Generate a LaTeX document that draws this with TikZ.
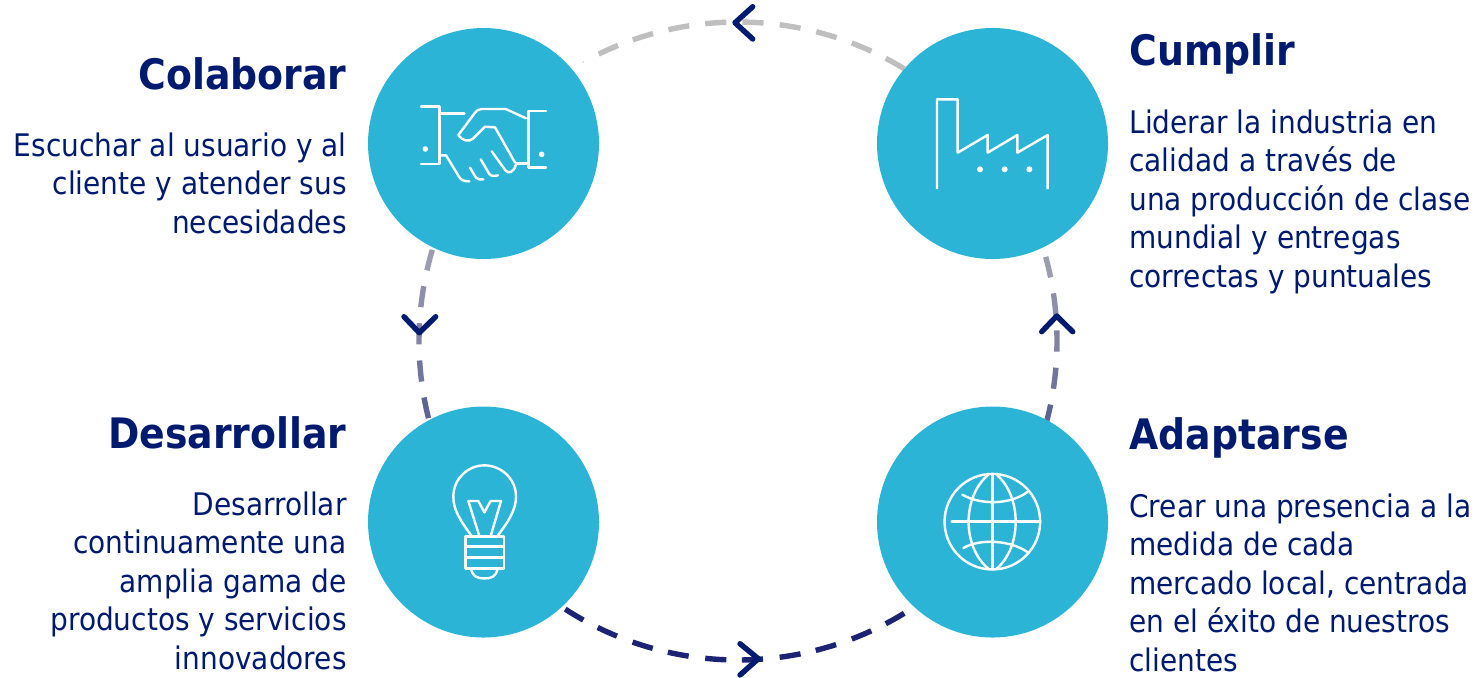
\documentclass[tikz,border=0pt]{standalone}
\usepackage{fontspec}
\setmainfont{DejaVu Sans}[FakeStretch=0.9]
\definecolor{disccol}{HTML}{2CB4D6}
\definecolor{navytext}{HTML}{001A70}
\definecolor{dashnavy}{HTML}{1C2274}
\definecolor{dashgrey}{HTML}{BFBFBF}
\tikzset{
  disc/.style={circle,fill=disccol,draw=none,minimum size=115.5pt,inner sep=0pt},
  headtext/.style={text=navytext,inner sep=0pt,font=\bfseries\fontsize{21}{25}\selectfont},
  bodyleft/.style={text=navytext,inner sep=0pt,anchor=north east,align=right,font=\fontsize{15.55}{19.25}\selectfont,execute at begin node={\rule{0pt}{14pt}}},
  bodyright/.style={text=navytext,inner sep=0pt,anchor=north west,align=left,font=\fontsize{15.55}{19.25}\selectfont,execute at begin node={\rule{0pt}{14pt}}},
  dashseg/.style={line width=2.7pt,line cap=butt},
  chevron/.style={draw=navytext,line width=2.7pt,line cap=round,line join=round},
  iconline/.style={draw=white,line width=1.2pt,line join=round,line cap=round},
  icondot/.style={fill=white,draw=none}
}
\begin{document}
\begin{tikzpicture}[x=0.5pt,y=-0.5pt]
\useasboundingbox (0,0) rectangle (1481,677);
% dashed ring
\coordinate (ring) at (738,341);
\foreach \a in {114,107.35,100.7,94,87.3,80.6,73.9,67.2,60.5}
  \draw[dashseg,dashgrey] plot[domain=\a-1.9:\a+1.9,samples=6] ({738+319*cos(\x)},{341-319*sin(\x)});
\draw[dashgrey,line width=0.4pt] plot[domain=118.9:119.1,samples=2] ({738+319*cos(\x)},{341-319*sin(\x)});
\foreach \a/\m in {165.3/22,172/30,178.7/38,185.4/48,192.1/58,-13.4/58,-6.7/48,0/38,6.7/30,13.4/22}
  \draw[dashseg,dashnavy!\m!dashgrey] plot[domain=\a-1.9:\a+1.9,samples=6] ({738+319*cos(\x)},{341-319*sin(\x)});
\foreach \a in {239.1,245.8,252.6,259.2,266,272.6,279.4,286,292.8,299.5}
  \draw[dashseg,dashnavy] plot[domain=\a-1.9:\a+1.9,samples=6] ({738+319*cos(\x)},{341-319*sin(\x)});
% discs
\node[disc] (colaborar) at (483.5,143.5) {};
\node[disc] (cumplir) at (992.5,143.5) {};
\node[disc] (desarrollar) at (483.5,522) {};
\node[disc] (adaptarse) at (992.5,522) {};
% chevrons
\coordinate (ct) at (735,22.7); \coordinate (ct1) at (752.7,6.7); \coordinate (ct2) at (752.7,39);
\draw[chevron] (ct1) -- (ct) -- (ct2);
\coordinate (cb) at (758.3,658.7); \coordinate (cb1) at (740,643.7); \coordinate (cb2) at (740,675);
\draw[chevron] (cb1) -- (cb) -- (cb2);
\coordinate (cl) at (419.3,332.7); \coordinate (cl1) at (404,316.7); \coordinate (cl2) at (435.7,316.7);
\draw[chevron] (cl1) -- (cl) -- (cl2);
\coordinate (cr) at (1056.7,316); \coordinate (cr1) at (1041.7,331.7); \coordinate (cr2) at (1072.7,331.7);
\draw[chevron] (cr1) -- (cr) -- (cr2);
% handshake icon
\begin{scope}[shift={(360,20)},x=0.16667pt,y=-0.16667pt]
\draw[iconline] (183,259)--(238,259)--(238,432)--(183,432);
\draw[iconline] (238,280)--(313,280);
\fill[icondot] (196,387) circle[radius=1.4pt];
\draw[iconline] (238,406)--(258,406)--(297,470) .. controls (303,481) and (313,484) .. (328,484);
\draw[iconline] (330,443)--(348,473) .. controls (353,479) and (362,479) .. (370,478);
\draw[iconline] (362,418)--(388,462) .. controls (393,469) and (404,468) .. (414,466);
\draw[iconline] (395,394)--(437,452) .. controls (445,462) and (462,458) .. (468,432);
\draw[iconline] (498,295)--(437,267)--(365,267) .. controls (355,267) and (350,272) .. (345,278)--(295,345) .. controls (305,362) and (328,368) .. (340,355)--(375,320)--(405,322)--(465,428);
\draw[iconline] (468,430)--(505,430);
\draw[iconline] (558,273)--(505,273)--(505,443)--(558,443);
\fill[icondot] (545,403) circle[radius=1.4pt];
\end{scope}
% factory icon
\begin{scope}[shift={(870,20)},x=0.16667pt,y=-0.16667pt]
\draw[iconline,line cap=butt] (201,507)--(201,238)--(263,238)--(263,398)--(353,345)--(353,398)--(442,345)--(442,398)--(533,345)--(533,507);
\fill[icondot] (330,448) circle[radius=1.5pt];
\fill[icondot] (404,448) circle[radius=1.5pt];
\fill[icondot] (478,448) circle[radius=1.5pt];
\end{scope}
% bulb icon
\begin{scope}[shift={(360,400)},x=0.16667pt,y=-0.16667pt]
\draw[iconline] (316,410) rectangle (432,505);
\draw[iconline] (316,440)--(432,440);
\draw[iconline] (316,473)--(432,473);
\draw[iconline] (333,505) .. controls (338,530) and (350,535) .. (373,535) .. controls (396,535) and (408,530) .. (413,505);
\draw[iconline] (335,408) .. controls (300,360) and (280,330) .. (280,290) .. controls (280,235) and (325,196) .. (373,196) .. controls (422,196) and (468,235) .. (468,290) .. controls (468,330) and (445,365) .. (412,408);
\draw[iconline] (358,408)--(325,303)--(355,303)--(373,337)--(392,303)--(423,303)--(392,408);
\end{scope}
% globe icon
\begin{scope}[shift={(870,400)},x=0.16667pt,y=-0.16667pt]
\draw[iconline] (367,365) circle[radius=23.9pt];
\draw[iconline] (367,222)--(367,508);
\draw[iconline] (245,365)--(510,365);
\draw[iconline] (355,224) .. controls (276,290) and (276,440) .. (355,506);
\draw[iconline] (380,224) .. controls (456,290) and (456,440) .. (380,506);
\draw[iconline] (277,284) .. controls (330,315) and (420,315) .. (472,276);
\draw[iconline] (280,444) .. controls (330,415) and (420,420) .. (472,456);
\end{scope}
% texts
\node[headtext,anchor=base east] (t1) at (347,89) {Colaborar};
\node[bodyleft] (b1) at (347,132) {Escuchar al usuario y al\\cliente y atender sus\\necesidades};
\node[headtext,anchor=base west] (t2) at (1129,65) {Cumplir};
\node[bodyright] (b2) at (1129,109) {Liderar la industria en\\calidad a través de\\una producción de clase\\mundial y entregas\\correctas y puntuales};
\node[headtext,anchor=base east] (t3) at (347,448) {Desarrollar};
\node[bodyleft] (b3) at (347,491) {Desarrollar\\continuamente una\\amplia gama de\\productos y servicios\\innovadores};
\node[headtext,anchor=base west] (t4) at (1129,449) {Adaptarse};
\node[bodyright] (b4) at (1129,493) {Crear una presencia a la\\medida de cada\\mercado local, centrada\\en el éxito de nuestros\\clientes};
\end{tikzpicture}
\end{document}
